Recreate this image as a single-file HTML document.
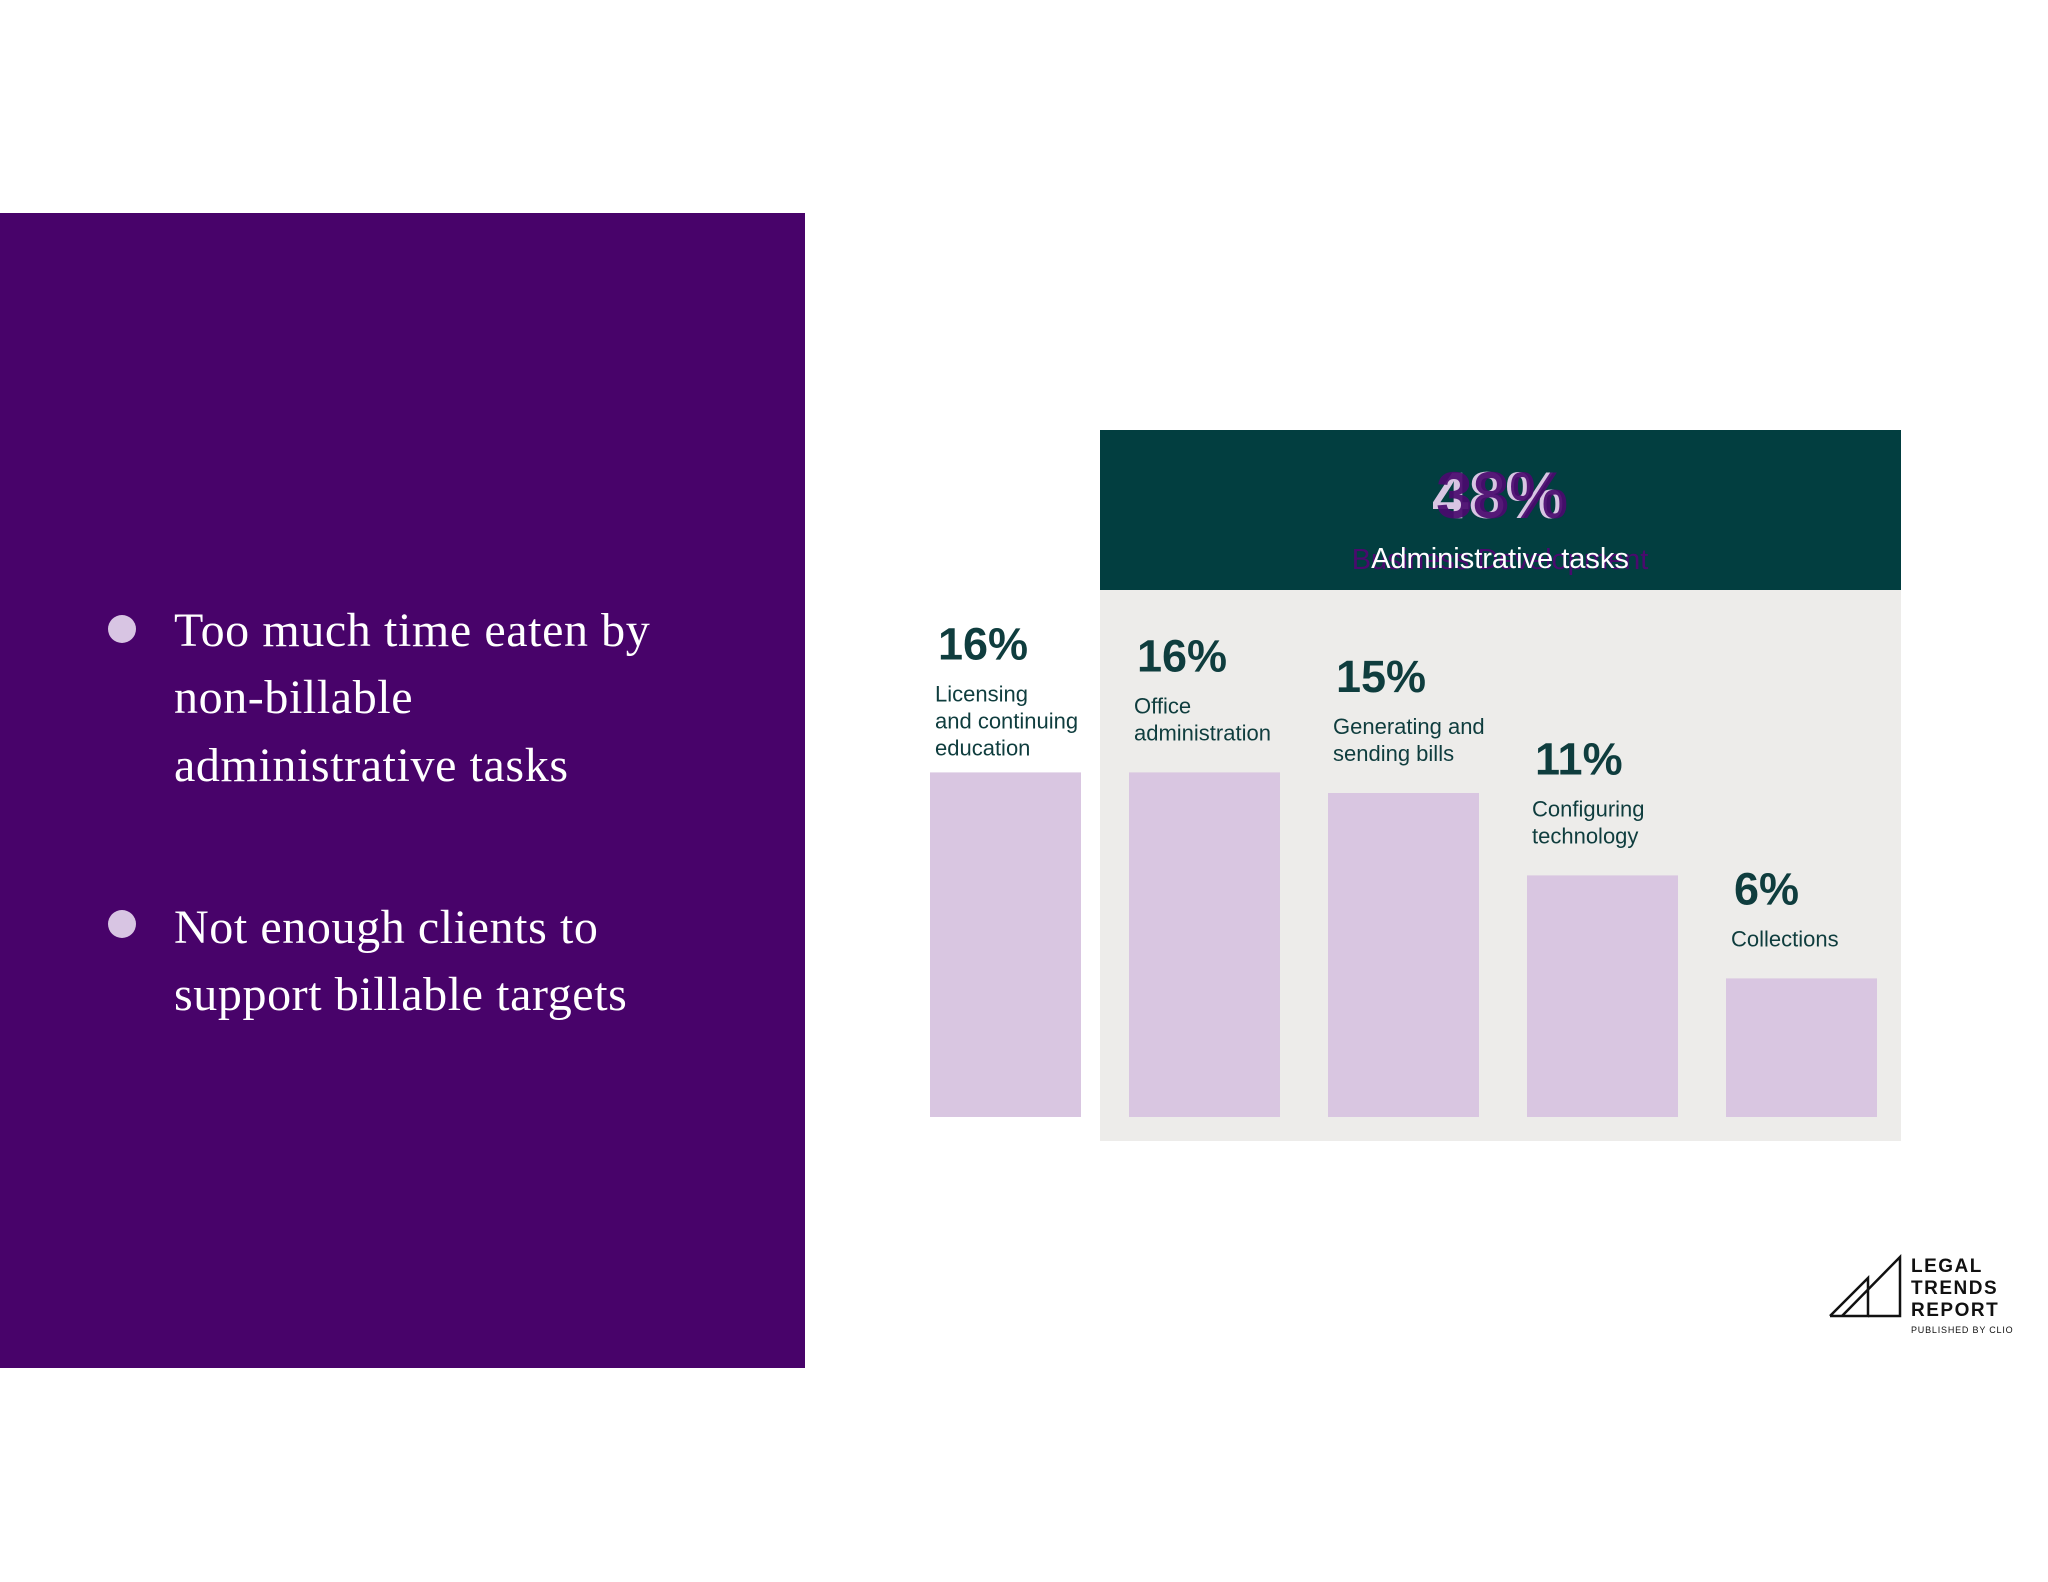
<!DOCTYPE html>
<html><head><meta charset="utf-8"><style>
html,body{margin:0;padding:0;background:#fff;}
svg{display:block;}
.hdr{font-family:"Liberation Sans",sans-serif;}
</style></head><body>
<svg id="c" width="2048" height="1582" viewBox="0 0 2048 1582" xmlns="http://www.w3.org/2000/svg">
<rect x="0" y="0" width="2048" height="1582" fill="#ffffff"/>
<rect x="0" y="213" width="805" height="1155" fill="#48036a"/>
<g font-family="Liberation Serif, serif" font-size="48" letter-spacing="0.6" fill="#ffffff">
  <circle cx="122" cy="629" r="14" fill="#d8c5e3"/>
  <text x="174" y="646">Too much time eaten by</text>
  <text x="174" y="713">non-billable</text>
  <text x="174" y="781">administrative tasks</text>
  <circle cx="122" cy="924" r="14" fill="#d8c5e3"/>
  <text x="174" y="943">Not enough clients to</text>
  <text x="174" y="1010">support billable targets</text>
</g>
<rect x="1100" y="590" width="801" height="551" fill="#edecea"/>
<rect x="1100" y="430" width="801" height="160" fill="#023e40"/>
<g class="hdr" text-anchor="middle">
  <text class="hdr" x="1498" y="518" font-size="66" font-weight="bold" fill="#d8c5e3">48%</text>
  <text class="hdr" x="1502" y="518" font-size="66" font-weight="bold" fill="#4a0a6e" fill-opacity="0.92">38%</text>
  <text class="hdr" x="1500" y="569" font-size="29" fill="#4a0a6e">Business Development</text>
  <text class="hdr" x="1500" y="568" font-size="29" fill="#ffffff">Administrative tasks</text>
</g>
<g id="bars"></g>
<g fill="none" stroke="#111" stroke-width="2.5">
  <polyline points="1830,1316 1868,1278 1868,1316 1830,1316"/>
  <polyline points="1842,1316 1900,1257 1900,1316 1868,1316"/>
</g>
<g font-family="Liberation Sans, sans-serif" font-weight="bold" font-size="19" fill="#111" letter-spacing="1.5">
  <text x="1911" y="1272">LEGAL</text>
  <text x="1911" y="1294">TRENDS</text>
  <text x="1911" y="1316">REPORT</text>
  <text x="1911" y="1333" font-size="9" font-weight="normal" letter-spacing="0.8">PUBLISHED BY CLIO</text>
</g>
</svg>
<script>
const categories = [["Licensing","and continuing","education"],["Office","administration"],["Generating and","sending bills"],["Configuring","technology"],["Collections"]];
const values = [16, 16, 15, 11, 6];
const valueLabels = ["16%","16%","15%","11%","6%"];

const NS = "http://www.w3.org/2000/svg";
const g = document.getElementById('bars');
const baseY = 1117, x0 = 930, step = 199, barW = 151;
function yScale(v){ return baseY - (15 + 20.6 * v); }
function xScale(i){ return x0 + i * step; }
function labelGap(nLines){ return nLines >= 3 ? 17 : 32; }
function mk(tag, attrs){ const e = document.createElementNS(NS, tag); for (const k in attrs) e.setAttribute(k, attrs[k]); return e; }
values.forEach((v, i) => {
  const top = yScale(v), x = xScale(i);
  const r = mk('rect', {x: x, y: top, width: barW, height: baseY - top, fill: '#d9c6e1'});
  
  
  g.appendChild(r);
  const lines = categories[i];
  const lastBase = top - labelGap(lines.length);
  lines.forEach((ln, j) => {
    const t = mk('text', {x: x + 5, y: lastBase - (lines.length - 1 - j) * 27, 'font-family': 'Liberation Sans, sans-serif', 'font-size': '22', fill: '#0f3d3e'});
    t.textContent = ln;
    
    
    g.appendChild(t);
  });
  const p = mk('text', {x: x + 8, y: lastBase - (lines.length - 1) * 27 - 42, 'font-family': 'Liberation Sans, sans-serif', 'font-size': '45', 'font-weight': 'bold', fill: '#0f3d3e'});
  p.textContent = valueLabels[i];
  
  
  g.appendChild(p);
});
</script>
</body></html>
